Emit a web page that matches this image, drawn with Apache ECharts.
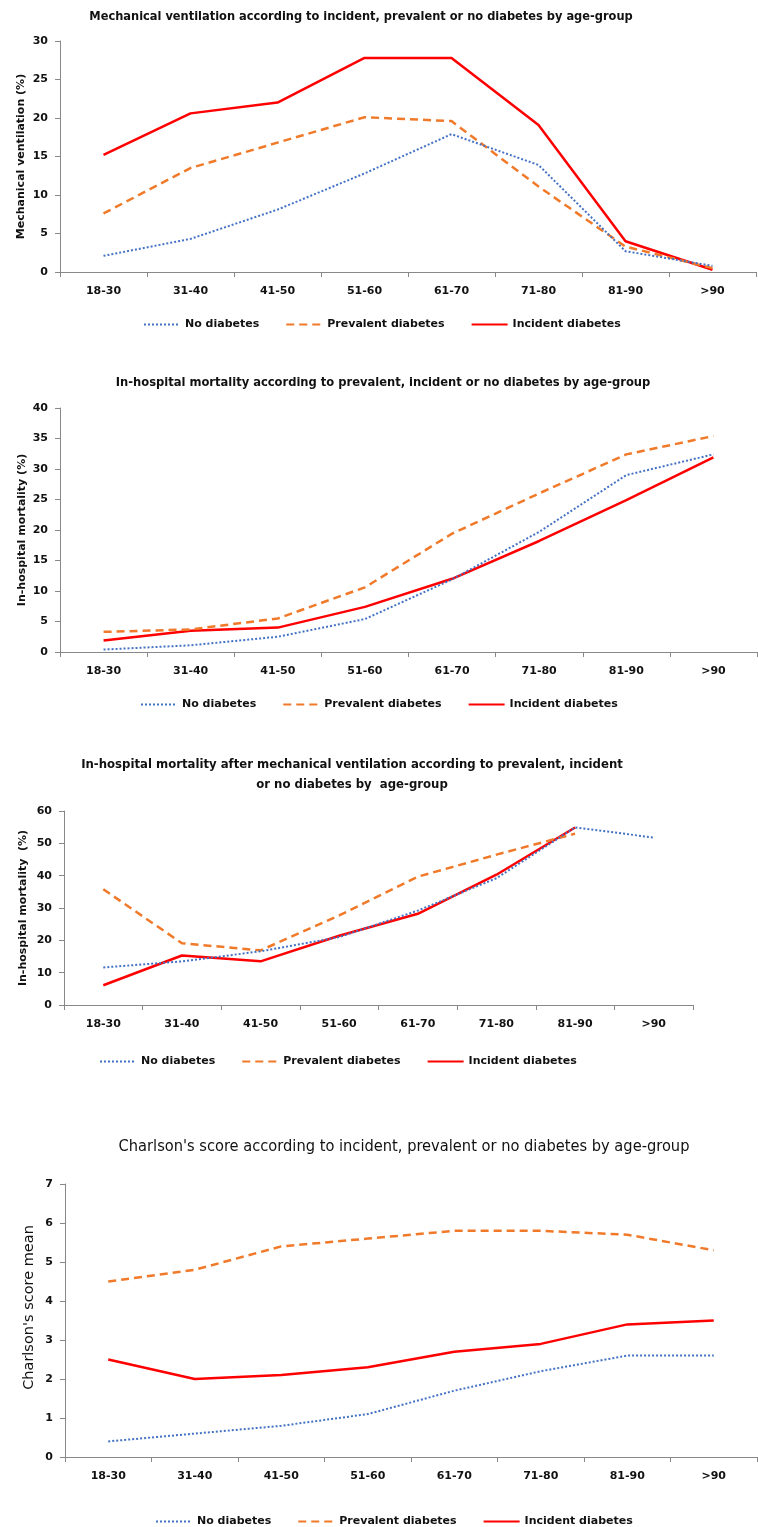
<!DOCTYPE html>
<html>
<head>
<meta charset="utf-8">
<script src="https://cdn.jsdelivr.net/npm/echarts@6/dist/echarts.min.js"></script>
<style>
  html, body { margin: 0; padding: 0; background: #fff; }
  #chart { width: 758px; height: 1527px; }
</style>
</head>
<body>
<div id="chart"></div>
<script>
// age groups shared by all four panels
const ageGroups = ['18-30', '31-40', '41-50', '51-60', '61-70', '71-80', '81-90', '>90'];
const seriesNames = ['No diabetes', 'Prevalent diabetes', 'Incident diabetes'];

// panel 1 - mechanical ventilation (%)
const ventNone      = [2.1, 4.3, 8.1, 12.8, 17.9, 13.9, 2.7, 0.8];
const ventPrevalent = [7.6, 13.5, 16.8, 20.1, 19.6, 11.1, 3.3, 0.5];
const ventIncident  = [15.2, 20.6, 22.0, 27.8, 27.8, 19.1, 4.0, 0.3];

// panel 2 - in-hospital mortality (%)
const mortNone      = [0.4, 1.1, 2.5, 5.4, 11.9, 19.7, 29.0, 32.4];
const mortPrevalent = [3.3, 3.7, 5.5, 10.6, 19.4, 26.0, 32.4, 35.4];
const mortIncident  = [1.9, 3.5, 4.0, 7.4, 12.0, 18.2, 24.9, 31.9];

// panel 3 - in-hospital mortality after mechanical ventilation (%)
const mvMortNone      = [11.6, 13.5, 16.6, 21.0, 29.2, 39.2, 54.9, 51.8];
const mvMortPrevalent = [35.8, 19.1, 16.9, 27.7, 39.7, 46.5, 53.0, null];
const mvMortIncident  = [6.1, 15.3, 13.5, 21.4, 28.2, 40.3, 54.9, null];

// panel 4 - Charlson's score mean
const charlsonNone      = [0.4, 0.6, 0.8, 1.1, 1.7, 2.2, 2.6, 2.6];
const charlsonPrevalent = [4.5, 4.8, 5.4, 5.6, 5.8, 5.8, 5.7, 5.3];
const charlsonIncident  = [2.5, 2.0, 2.1, 2.3, 2.7, 2.9, 3.4, 3.5];

const panels = [
  {
    title: 'Mechanical ventilation according to incident, prevalent or no diabetes by age-group',
    yName: 'Mechanical ventilation (%)', max: 30, interval: 5,
    data: [ventNone, ventPrevalent, ventIncident]
  },
  {
    title: 'In-hospital mortality according to prevalent, incident or no diabetes by age-group',
    yName: 'In-hospital mortality (%)', max: 40, interval: 5,
    data: [mortNone, mortPrevalent, mortIncident]
  },
  {
    title: 'In-hospital mortality after mechanical ventilation according to prevalent, incident\nor no diabetes by  age-group',
    yName: 'In-hospital mortality  (%)', max: 60, interval: 10,
    data: [mvMortNone, mvMortPrevalent, mvMortIncident]
  },
  {
    title: "Charlson's score according to incident, prevalent or no diabetes by age-group",
    yName: "Charlson's score mean", max: 7, interval: 1,
    data: [charlsonNone, charlsonPrevalent, charlsonIncident]
  }
];

// layout of each panel (pixels)
const layout = [
  { grid: { left: 60, top: 41, width: 696, height: 231 }, titleX: 356, titleY: 2, legendX: 138, legendY: 314,
    titleFont: 'bold', titleSize: 12.7, labelSize: 11, nameSize: 11, nameWeight: 'bold', nameGap: 33, namePad: 0 },
  { grid: { left: 60, top: 408, width: 697, height: 244 }, titleX: 378, titleY: 368, legendX: 135, legendY: 694,
    titleFont: 'bold', titleSize: 12.8, labelSize: 11, nameSize: 11, nameWeight: 'bold', nameGap: 32, namePad: 0 },
  { grid: { left: 64, top: 811, width: 629, height: 194 }, titleX: 347, titleY: 750, legendX: 94, legendY: 1051,
    titleFont: 'bold', titleSize: 13, labelSize: 11, nameSize: 11, nameWeight: 'bold', nameGap: 35, namePad: 0 },
  { grid: { left: 65, top: 1184, width: 692, height: 273 }, titleX: 399, titleY: 1132, legendX: 150, legendY: 1511,
    titleFont: 'normal', titleSize: 16.3, labelSize: 11, nameSize: 14.5, nameWeight: 'normal', nameGap: 28, namePad: 26 }
];

const colors = ['#4472C4', '#F07A2A', '#FF0000'];
const lineTypes = [[2, 2], [8, 5], 'solid'];
const lineWidths = [2, 2.5, 2.5];

const titleFamily = "'Liberation Sans Narrow', 'DejaVu Sans Condensed', sans-serif";
const labelFamily = "'DejaVu Sans', Verdana, sans-serif";

const option = { animation: false, title: [], grid: [], xAxis: [], yAxis: [], legend: [], series: [] };

panels.forEach((p, i) => {
  const l = layout[i];
  option.title.push({
    text: p.title, left: l.titleX, top: l.titleY, textAlign: 'center',
    textStyle: { fontFamily: titleFamily, fontSize: l.titleSize, fontWeight: l.titleFont, color: '#111', lineHeight: 20 }
  });
  option.grid.push(Object.assign({ containLabel: false }, l.grid));
  option.xAxis.push({
    type: 'category', gridIndex: i, data: ageGroups, boundaryGap: true,
    axisLine: { lineStyle: { color: '#888', width: 1 } },
    axisTick: { show: true, length: 5, lineStyle: { color: '#888' } },
    axisLabel: { fontFamily: labelFamily, fontWeight: 'bold', fontSize: l.labelSize, color: '#111', margin: 14 }
  });
  option.yAxis.push({
    type: 'value', gridIndex: i, min: 0, max: p.max, interval: p.interval,
    name: p.yName, nameLocation: 'middle', nameGap: l.nameGap, nameRotate: 90, nameMoveOverlap: false,
    nameTextStyle: { fontFamily: labelFamily, fontWeight: l.nameWeight, fontSize: l.nameSize, color: '#111',
      padding: [0, 0, 0, l.namePad] },
    splitLine: { show: false },
    axisLine: { show: true, lineStyle: { color: '#888', width: 1 } },
    axisTick: { show: true, length: 5, lineStyle: { color: '#888' } },
    axisLabel: { fontFamily: labelFamily, fontWeight: 'bold', fontSize: l.labelSize, color: '#111', margin: 12 }
  });
  option.legend.push({
    left: l.legendX, top: l.legendY, itemWidth: 36, itemHeight: 10, itemGap: 26,
    data: seriesNames,
    itemStyle: { opacity: 0 },
    textStyle: { fontFamily: labelFamily, fontWeight: 'bold', fontSize: 11, color: '#111' }
  });
  p.data.forEach((values, k) => {
    option.series.push({
      type: 'line', name: seriesNames[k], xAxisIndex: i, yAxisIndex: i,
      data: values, symbol: 'none', connectNulls: false,
      lineStyle: { color: colors[k], width: lineWidths[k], type: lineTypes[k] },
      itemStyle: { color: colors[k] },
      z: 10 - k
    });
  });
});

const chart = echarts.init(document.getElementById('chart'));
chart.setOption(option);
</script>
</body>
</html>
